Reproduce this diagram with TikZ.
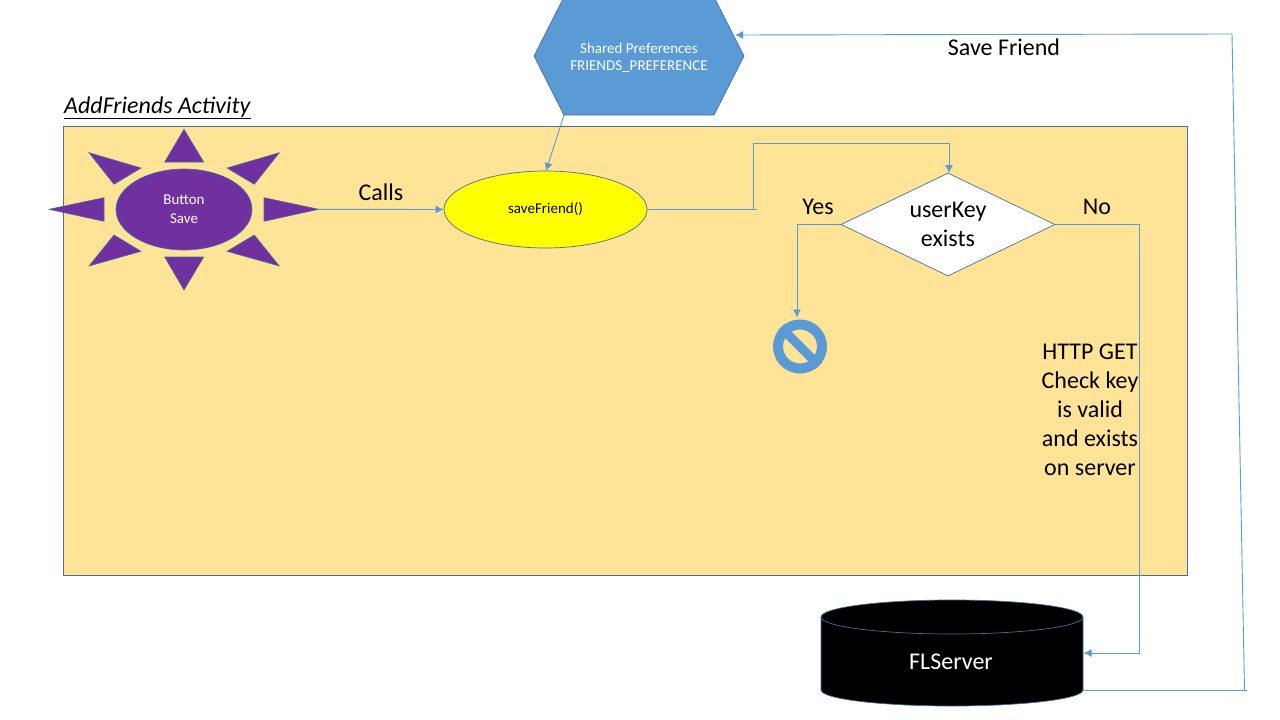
\documentclass[tikz,border=0pt]{standalone}
\usepackage{fontspec}
\setmainfont{Carlito}
\usetikzlibrary{shapes.geometric,arrows.meta}
\definecolor{boxfill}{HTML}{FFE497}
\definecolor{boxline}{HTML}{41719C}
\definecolor{wire}{HTML}{5B9BD5}
\definecolor{sunfill}{HTML}{7030A0}
\definecolor{callfill}{HTML}{FFFF00}
\tikzset{
  wirearrow/.style={draw=wire, line width=0.9pt, -{Latex[length=8pt,width=8pt]}},
  wireline/.style={draw=wire, line width=0.9pt},
  sunray/.style={fill=sunfill, draw=boxline, line width=0.6pt},
  biglabel/.style={font=\fontsize{24}{29}\selectfont, align=center, inner sep=0pt},
  smalllabel/.style={font=\fontsize{15}{19}\selectfont, align=center, inner sep=0pt}
}
\begin{document}
\begin{tikzpicture}[x=1pt, y=-1pt]
  \useasboundingbox (0,0) rectangle (1280,720);
  \fill[white] (0,0) rectangle (1280,720);
  % Activity box
  \draw[fill=boxfill, draw=boxline, line width=0.8pt] (63.5,126.5) rectangle (1187.5,575);
  \node[biglabel, anchor=west] (title) at (64,108) {\underline{\textit{AddFriends Activity}}};
  % Shared preferences hexagon
  \draw[fill=wire, draw=boxline, line width=0.7pt] (534,56) -- (564,115) coordinate (prefscorner) -- (714,115) -- (744,56) -- (714,-3) -- (564,-3) -- cycle;
  \coordinate (prefsin) at (735,35);
  \node[smalllabel, text=white, font=\fontsize{15}{17}\selectfont] (prefs) at (639,58) {Shared Preferences\\FRIENDS\_PREFERENCE};
  % Button with its rays
  \draw[sunray] (184,129.3) -- (164.7,162) -- (203.7,162) -- cycle;
  \draw[sunray] (279.3,152.7) -- (227,168) -- (254.3,184.3) -- cycle;
  \draw[sunray] (318.7,209.3) coordinate (suntip) -- (264,197.7) -- (264,221.3) -- cycle;
  \draw[sunray] (279.3,266) -- (227,251.3) -- (254.3,235) -- cycle;
  \draw[sunray] (184,290) -- (164.7,257) -- (203.7,257) -- cycle;
  \draw[sunray] (89,266) -- (141,251.3) -- (114,235) -- cycle;
  \draw[sunray] (49,209.3) -- (104,197.7) -- (104,221.3) -- cycle;
  \draw[sunray] (89,152.7) -- (141,168) -- (114,184.3) -- cycle;
  \node[ellipse, sunray, minimum width=136pt, minimum height=81pt, inner sep=0pt, smalllabel, text=white] (button) at (184,209.5) {Button\\Save};
  % saveFriend call
  \node[ellipse, fill=callfill, draw=boxline, line width=0.7pt, minimum width=203pt, minimum height=77pt, inner sep=0pt, smalllabel] (savefriend) at (545.5,209.5) {saveFriend()};
  \node[biglabel] (calls) at (381,192) {Calls};
  \draw[wirearrow] (suntip) -- (savefriend.west);
  \draw[wirearrow] (prefscorner) -- (546,171);
  % userKey decision
  \node[diamond, fill=white, draw=boxline, line width=0.7pt, aspect=2.08, minimum width=214pt, minimum height=103pt, inner sep=0pt, biglabel] (userkey) at (948,224.5) {userKey\\exists};
  \coordinate (stubend) at (757,209.5);
  \coordinate (stubturn) at (753.5,209.5);
  \draw[wireline] (savefriend.east) -- (stubend);
  \draw[wirearrow] (stubturn) -- (753.5,143.5) -- (949,143.5) -- (949,173);
  \node[biglabel] (yes) at (818,207) {Yes};
  \node[biglabel] (no) at (1097,207) {No};
  % Stop sign
  \node[circle, draw=wire, line width=10pt, minimum size=44pt, inner sep=0pt] (stop) at (800,346.5) {};
  \draw[draw=wire, line width=9pt] (stop.north west) -- (stop.south east);
  \draw[wirearrow] (userkey.west) -- (797,224.5) -- (797,317.5);
  % Server
  \draw[fill=black, draw=boxline, line width=0.7pt] (821,617) arc[x radius=131, y radius=17, start angle=180, end angle=360] -- (1083,690) arc[x radius=131, y radius=16, start angle=0, end angle=180] -- cycle;
  \draw[draw=boxline, line width=0.7pt] (821,617) arc[x radius=131, y radius=17, start angle=180, end angle=0];
  \node[biglabel, text=white] (server) at (951,662) {FLServer};
  \coordinate (serverin) at (1083.5,653);
  \coordinate (serverout) at (1083,690);
  \coordinate (returnend) at (1246.5,690);
  \coordinate (returnturn) at (1244.5,690);
  \draw[wirearrow] (userkey.east) -- (1139,224.5) -- (1139,653) -- (serverin);
  \node[biglabel] (httpget) at (1090,410) {HTTP GET\\Check key\\is valid\\and exists\\on server};
  \draw[wireline] (serverout) -- (returnend);
  \draw[wirearrow] (returnturn) -- (1232,34) -- (prefsin);
  \node[biglabel] (savelabel) at (1004,47.5) {Save Friend};
\end{tikzpicture}
\end{document}
